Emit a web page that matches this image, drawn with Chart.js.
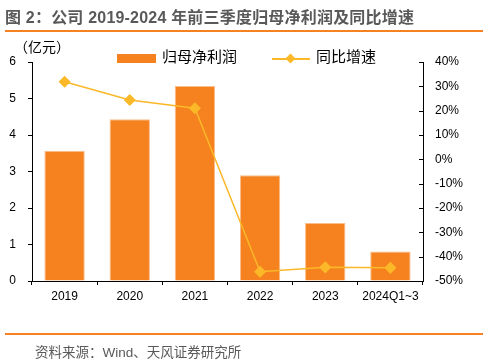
<!DOCTYPE html>
<html>
<head>
<meta charset="utf-8">
<script src="https://cdn.jsdelivr.net/npm/chart.js@4"></script>
<style>
  body { margin: 0; background: #fff; }
  #wrap { position: relative; width: 488px; height: 363px; overflow: hidden;
          font-family: "Liberation Sans", "Noto Sans CJK SC", sans-serif; }
  #chart { position: absolute; left: 0; top: 0; }
  .title { position: absolute; left: 5px; top: 4px; font-size: 16px; font-weight: bold; color: #595959; white-space: nowrap; letter-spacing: 0.2px; }
  .rule { position: absolute; left: 5px; width: 478px; height: 1.5px; background: #F5821F; }
  .unit { position: absolute; left: 14px; top: 36px; font-size: 14px; color: #000; }
  .legend { position: absolute; top: 45px; font-size: 15px; color: #000; white-space: nowrap; }
  .source { position: absolute; left: 35px; top: 341px; font-size: 13.5px; color: #595959; white-space: nowrap; }
</style>
</head>
<body>
<div id="wrap">
  <canvas id="chart" width="488" height="363"></canvas>
  <div class="title">图 2：公司 2019-2024 年前三季度归母净利润及同比增速</div>
  <div class="rule" style="top:30px"></div>
  <div class="unit">（亿元）</div>
  <div class="legend" style="left:117px">
    <span style="display:inline-block;width:39px;height:9px;background:#F5821F;vertical-align:middle;margin-right:6px"></span>归母净利润
  </div>
  <div class="legend" style="left:272px">
    <span style="display:inline-block;position:relative;width:38px;height:9px;vertical-align:middle;margin-right:6px">
      <span style="position:absolute;left:0;top:4px;width:38px;height:2px;background:#FBB829"></span>
      <span style="position:absolute;left:15px;top:1px;width:7px;height:7px;background:#FBB829;transform:rotate(45deg)"></span>
    </span>同比增速
  </div>
  <div class="rule" style="top:333px"></div>
  <div class="source">资料来源：Wind、天风证券研究所</div>
</div>
<script>
const categories = ["2019", "2020", "2021", "2022", "2023", "2024Q1~3"];
const profit = [3.57, 4.43, 5.34, 2.90, 1.59, 0.81];
const growth = [31.9, 24.4, 21.0, -46.2, -44.4, -44.6];

const tickFont = { family: "Liberation Sans, Noto Sans CJK SC, sans-serif", size: 12 };

// right axis ticks point inward
const innerTicks = {
  id: "innerTicks",
  afterDraw(chart) {
    const s = chart.scales.y1;
    const ctx = chart.ctx;
    ctx.save();
    ctx.strokeStyle = "#000";
    ctx.lineWidth = 1;
    s.ticks.forEach(t => {
      const y = Math.round(s.getPixelForValue(t.value)) + 0.5;
      ctx.beginPath();
      ctx.moveTo(s.left - 4, y);
      ctx.lineTo(s.left, y);
      ctx.stroke();
    });
    ctx.restore();
  }
};

new Chart(document.getElementById("chart"), {
  data: {
    labels: categories,
    datasets: [
      {
        type: "line",
        label: "同比增速",
        data: growth,
        yAxisID: "y1",
        borderColor: "#FBB829",
        backgroundColor: "#FBB829",
        borderWidth: 1.5,
        pointStyle: "rectRot",
        pointRadius: 5,
        tension: 0,
        order: 0
      },
      {
        type: "bar",
        label: "归母净利润",
        data: profit,
        yAxisID: "y",
        backgroundColor: "#F5821F",
        borderColor: "#F9BE8C",
        borderWidth: 1,
        categoryPercentage: 1,
        barPercentage: 0.62,
        order: 1
      }
    ]
  },
  options: {
    responsive: false,
    animation: false,
    layout: { padding: { top: 62, bottom: 52, left: 0, right: 0 } },
    plugins: { legend: { display: false }, tooltip: { enabled: false } },
    scales: {
      x: {
        offset: true,
        grid: { offset: true, drawOnChartArea: false, tickLength: 4, color: "#000" },
        border: { color: "#000", width: 1 },
        ticks: { color: "#000", font: tickFont, padding: 4, maxRotation: 0, autoSkip: false },
        afterFit: s => { s.height = 30; }
      },
      y: {
        position: "left",
        min: 0, max: 6,
        ticks: { stepSize: 1, color: "#000", font: tickFont, padding: 12 },
        grid: { drawOnChartArea: false, tickLength: 4, color: "#000" },
        border: { color: "#000", width: 1 },
        afterFit: s => { s.width = 32; }
      },
      y1: {
        position: "right",
        min: -50, max: 40,
        ticks: { stepSize: 10, color: "#000", font: tickFont, padding: 12, callback: v => v + "%" },
        grid: { drawOnChartArea: false, drawTicks: false },
        border: { color: "#000", width: 1 },
        afterFit: s => { s.width = 65; }
      }
    }
  },
  plugins: [innerTicks]
});
</script>
</body>
</html>
